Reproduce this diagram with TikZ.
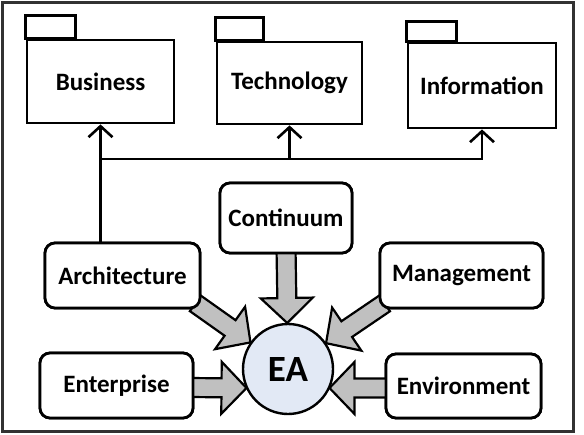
\documentclass[tikz,border=0pt]{standalone}
\usepackage{fontspec}
\setmainfont{Carlito}
\usetikzlibrary{calc,arrows.meta}
\definecolor{eafill}{RGB}{226,233,245}
\definecolor{arrowgray}{RGB}{192,192,192}
\definecolor{framecol}{RGB}{50,50,50}
\tikzset{
  lbl/.style={font=\fontsize{25}{29}\selectfont\bfseries},
  pkg/.style={draw=black,line width=2.8pt,fill=white,lbl,inner sep=0pt},
  pkgtab/.style={draw=black,line width=2.8pt,fill=white},
  rbox/.style={draw=black,line width=2.8pt,fill=white,rounded corners=10pt,lbl,inner sep=0pt},
  barrow/.style={draw=black,line width=2.2pt,fill=arrowgray,line join=miter},
  link/.style={draw=black,line width=2.6pt},
  linkarrow/.style={link,-{Straight Barb[length=11pt,width=24pt,line width=2.6pt]}},
}
\newcommand\blockarrow[2]{%
  \coordinate (ba-h) at ($(#2)!25pt!(#1)$);
  \draw[barrow] ($(#1)!9.5pt!90:(#2)$) -- ($(ba-h)!9.5pt!-90:(#1)$)
    -- ($(ba-h)!26pt!-90:(#1)$) -- (#2) -- ($(ba-h)!26pt!90:(#1)$)
    -- ($(ba-h)!9.5pt!90:(#1)$) -- ($(#1)!9.5pt!-90:(#2)$) -- cycle;}
\begin{document}
\begin{tikzpicture}[x=1pt,y=-1pt]
\useasboundingbox (0,0) rectangle (584,434);
\draw[framecol,line width=3pt] (2.5,2.5) rectangle (573,431);
% packages
\node[pkg,minimum width=147pt,minimum height=83pt] (bus) at (100.5,81.5) {Business};
\draw[pkgtab] (bus.north west) rectangle ++(50,-23);
\node[pkg,minimum width=145pt,minimum height=82pt] (tech) at (289.5,83) {Technology};
\draw[pkgtab] (tech.north west) rectangle ++(48,-23);
\node[pkg,minimum width=148pt,minimum height=85pt] (info) at (482,85.5) {Information};
\draw[pkgtab] (info.north west) rectangle ++(50,-20);
% boxes
\node[rbox,minimum width=155pt,minimum height=65pt] (arch) at (122.5,275.5) {Architecture};
\node[rbox,minimum width=132pt,minimum height=70pt] (cont) at (286,218) {Continuum};
\node[rbox,minimum width=163pt,minimum height=65pt] (mgmt) at (461.5,275.5) {Management};
\node[rbox,minimum width=153pt,minimum height=65pt] (ent) at (116.5,385.5) {Enterprise};
\node[rbox,minimum width=155pt,minimum height=64pt] (env) at (463.5,386) {Environment};
% connectors to packages
\coordinate (j) at (bus.south |- 0,159);
\draw[link] (arch.north -| bus.south) -- (j);
\draw[linkarrow] (j) -- (bus.south);
\draw[linkarrow] (j) -| (tech.south);
\draw[linkarrow] (j) -| (info.south);
% EA circle position
\coordinate (eac) at (288,369);
% block arrows
\coordinate (s1) at ($(arch.south east)+(-6,-6)$);
\coordinate (e1) at ($(eac)!46pt!(s1)$);
\coordinate (s2) at ($(cont.south)+(0,-6)$);
\coordinate (e2) at ($(eac)!46pt!(s2)$);
\coordinate (s3) at ($(mgmt.south west)+(6,-6)$);
\coordinate (e3) at ($(eac)!46pt!(s3)$);
\coordinate (s4) at ($(ent.east)+(-6,2)$);
\coordinate (e4) at ($(eac)+(-41.5,19)$);
\coordinate (s5) at ($(env.west)+(6,2)$);
\coordinate (e5) at ($(eac)+(41.5,19)$);
\blockarrow{s1}{e1}
\blockarrow{s2}{e2}
\blockarrow{s3}{e3}
\blockarrow{s4}{e4}
\blockarrow{s5}{e5}
% redraw boxes on top of arrow starts
\node[rbox,minimum width=155pt,minimum height=65pt] at (arch) {Architecture};
\node[rbox,minimum width=132pt,minimum height=70pt] at (cont) {Continuum};
\node[rbox,minimum width=163pt,minimum height=65pt] at (mgmt) {Management};
\node[rbox,minimum width=153pt,minimum height=65pt] at (ent) {Enterprise};
\node[rbox,minimum width=155pt,minimum height=64pt] at (env) {Environment};
\node[circle,draw=black,line width=2.4pt,fill=eafill,minimum size=90pt,inner sep=0pt,font=\fontsize{37}{40}\selectfont\bfseries] (ea) at (eac) {EA};
\end{tikzpicture}
\end{document}
